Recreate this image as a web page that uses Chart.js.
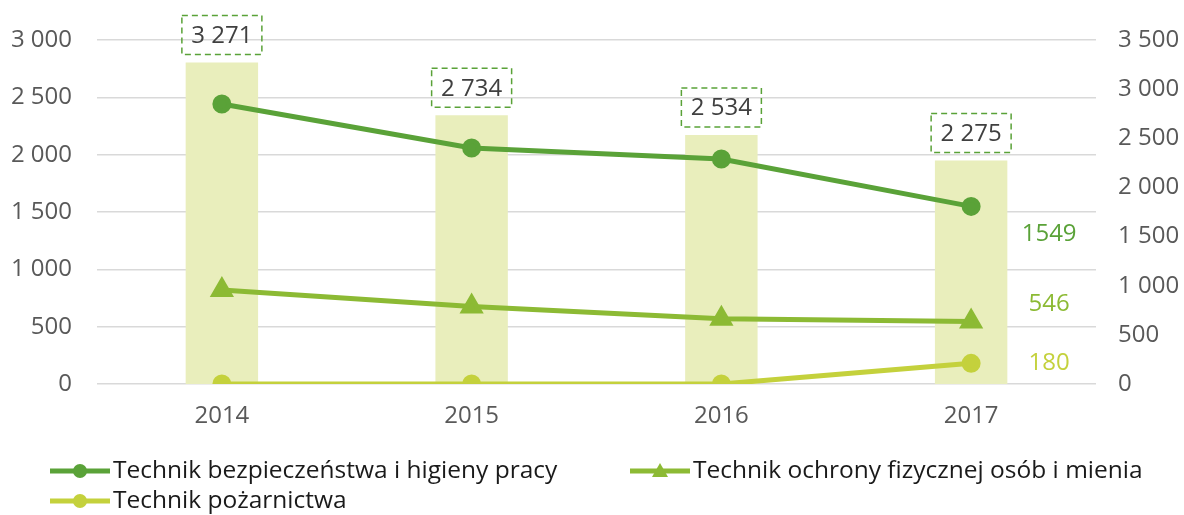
<!DOCTYPE html>
<html>
<head>
<meta charset="utf-8">
<script src="https://cdn.jsdelivr.net/npm/chart.js@4"></script>
<style>
  html, body { margin: 0; padding: 0; background: #fff; }
  #wrap { width: 1184px; height: 515px; }
</style>
</head>
<body>
<div id="wrap"><canvas id="chart" width="1184" height="515"></canvas></div>
<script>
const lata = ['2014', '2015', '2016', '2017'];
const ogolem = [3271, 2734, 2534, 2275];
const bhp = [2442, 2058, 1962, 1549];
const ochrona = [820, 675, 570, 546];
const pozarnictwo = [0, 0, 0, 180];

const kolorBhp = '#5aa238';
const kolorOchrona = '#8cba34';
const kolorPozar = '#c4d13c';
const kolorSlupki = '#e9eebc';
const fontRodzina = '"Open Sans", "Noto Sans", sans-serif';

function spacja(v) {
    return String(v).replace(/\B(?=(\d{3})+(?!\d))/g, ' ');
}

// etykiety: ramki nad slupkami i wartosci koncowe linii
const etykietyPlugin = {
    id: 'etykiety',
    afterDatasetsDraw(chart) {
        const ctx = chart.ctx;
        ctx.save();
        ctx.font = '24px ' + fontRodzina;
        ctx.textAlign = 'center';
        ctx.textBaseline = 'middle';

        const slupki = chart.getDatasetMeta(0);
        slupki.data.forEach((bar, i) => {
            const w = 80, h = 39;
            const cy = bar.y - 8 - h / 2;
            ctx.setLineDash([6, 4]);
            ctx.lineWidth = 1.5;
            ctx.strokeStyle = '#5aa238';
            ctx.strokeRect(bar.x - w / 2, cy - h / 2, w, h);
            ctx.setLineDash([]);
            ctx.fillStyle = '#404040';
            ctx.fillText(spacja(ogolem[i]), bar.x, cy + 1);
        });

        const przesuniecia = [28, -17, 0];
        [1, 2, 3].forEach((di, k) => {
            const meta = chart.getDatasetMeta(di);
            const ds = chart.data.datasets[di];
            const last = meta.data[meta.data.length - 1];
            ctx.fillStyle = ds.borderColor;
            ctx.fillText(String(ds.data[ds.data.length - 1]), last.x + 78, last.y + przesuniecia[k]);
        });
        ctx.restore();
    }
};

// legenda w dwoch kolumnach na dole
const legendaPlugin = {
    id: 'legenda',
    afterDraw(chart) {
        const ctx = chart.ctx;
        const pozycje = [[50, 471], [630, 471], [50, 501]];
        ctx.save();
        ctx.font = '24.5px ' + fontRodzina;
        ctx.textAlign = 'left';
        ctx.textBaseline = 'middle';
        [1, 2, 3].forEach((di, k) => {
            const ds = chart.data.datasets[di];
            const [x, y] = pozycje[k];
            ctx.strokeStyle = ds.borderColor;
            ctx.fillStyle = ds.borderColor;
            ctx.lineWidth = 5;
            ctx.beginPath();
            ctx.moveTo(x, y);
            ctx.lineTo(x + 60, y);
            ctx.stroke();
            ctx.beginPath();
            if (ds.pointStyle === 'triangle') {
                ctx.moveTo(x + 30, y - 8);
                ctx.lineTo(x + 38, y + 6);
                ctx.lineTo(x + 22, y + 6);
                ctx.closePath();
            } else {
                ctx.arc(x + 30, y, 7, 0, Math.PI * 2);
            }
            ctx.fill();
            ctx.fillStyle = '#1a1a1a';
            ctx.fillText(ds.label, x + 63, y);
        });
        ctx.restore();
    }
};

const ctx = document.getElementById('chart').getContext('2d');
new Chart(ctx, {
    data: {
        labels: lata,
        datasets: [
            {
                type: 'bar',
                label: 'Ogółem',
                data: ogolem,
                backgroundColor: kolorSlupki,
                yAxisID: 'y1',
                barPercentage: 0.58,
                categoryPercentage: 0.5,
                order: 2,
            },
            {
                type: 'line',
                label: 'Technik bezpieczeństwa i higieny pracy',
                data: bhp,
                borderColor: kolorBhp,
                backgroundColor: kolorBhp,
                borderWidth: 5,
                pointRadius: 7,
                pointStyle: 'circle',
                yAxisID: 'y',
                order: 1,
            },
            {
                type: 'line',
                label: 'Technik ochrony fizycznej osób i mienia',
                data: ochrona,
                borderColor: kolorOchrona,
                backgroundColor: kolorOchrona,
                borderWidth: 5,
                pointRadius: 9,
                pointStyle: 'triangle',
                yAxisID: 'y',
                order: 1,
            },
            {
                type: 'line',
                label: 'Technik pożarnictwa',
                data: pozarnictwo,
                borderColor: kolorPozar,
                backgroundColor: kolorPozar,
                borderWidth: 5,
                pointRadius: 7,
                pointStyle: 'circle',
                yAxisID: 'y',
                order: 1,
            },
        ],
    },
    options: {
        responsive: false,
        animation: false,
        layout: { padding: { top: 40, bottom: 81, left: 0, right: 0 } },
        plugins: {
            legend: { display: false },
            tooltip: { enabled: false },
        },
        scales: {
            x: {
                grid: { display: false },
                border: { display: false },
                ticks: { color: '#595959', font: { size: 24, family: fontRodzina }, padding: 10 },
                afterFit(s) { s.height = 50; },
            },
            y: {
                position: 'left',
                min: 0,
                max: 3000,
                ticks: {
                    stepSize: 500,
                    color: '#595959',
                    padding: 25,
                    font: { size: 24, family: fontRodzina },
                    callback: v => spacja(v),
                },
                grid: { color: '#d9d9d9', lineWidth: 1.5, drawTicks: false },
                border: { display: false },
                afterFit(s) { s.width = 97; },
            },
            y1: {
                position: 'right',
                min: 0,
                max: 3500,
                ticks: {
                    stepSize: 500,
                    color: '#595959',
                    padding: 22,
                    font: { size: 24, family: fontRodzina },
                    callback: v => spacja(v),
                },
                grid: { display: false, drawTicks: false },
                border: { display: false },
                afterFit(s) { s.width = 88; },
            },
        },
    },
    plugins: [etykietyPlugin, legendaPlugin],
});
</script>
</body>
</html>
